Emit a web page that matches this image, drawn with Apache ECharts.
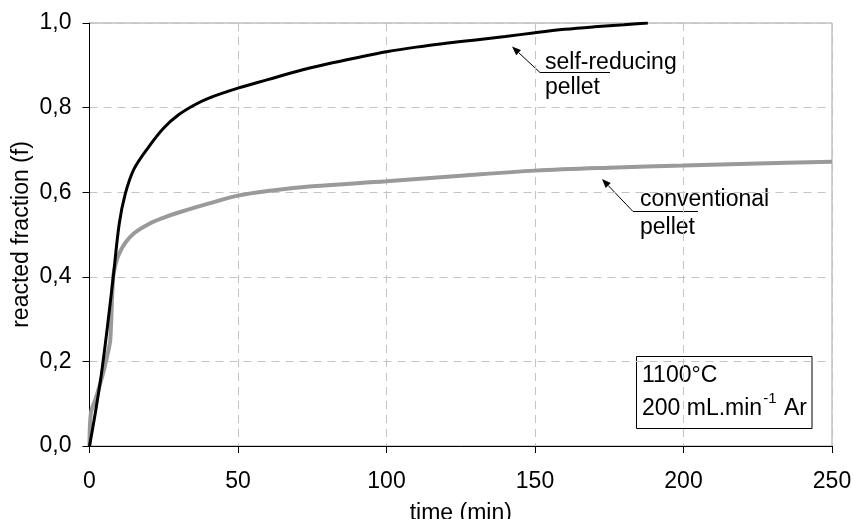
<!DOCTYPE html>
<html>
<head>
<meta charset="utf-8">
<script src="https://cdn.jsdelivr.net/npm/echarts@6/dist/echarts.min.js"></script>
<style>
    html, body { margin: 0; padding: 0; background: #fff; }
    #chart { width: 853px; height: 519px; }
</style>
</head>
<body>
<div id="chart"></div>
<script>
// self-reducing pellet
var timeSelf = [0, 2, 4, 6, 8, 10, 12, 15, 20, 25, 30, 35, 40, 50, 60, 70, 80, 90, 100, 110, 120, 130, 140, 150, 160, 170, 180, 188];
var fracSelf = [0, 0.08, 0.17, 0.28, 0.40, 0.525, 0.595, 0.655, 0.708, 0.752, 0.783, 0.805, 0.822, 0.846, 0.866, 0.886, 0.903, 0.918, 0.932, 0.943, 0.952, 0.960, 0.968, 0.977, 0.985, 0.991, 0.996, 1.0];
// conventional pellet
var timeConv = [0, 0.5, 2, 4.5, 6.5, 7, 8, 9, 10, 12, 15, 20, 25, 30, 40, 50, 60, 75, 100, 125, 150, 175, 200, 225, 250];
var fracConv = [0, 0.08, 0.11, 0.17, 0.23, 0.25, 0.40, 0.435, 0.455, 0.48, 0.503, 0.525, 0.54, 0.552, 0.573, 0.592, 0.603, 0.614, 0.626, 0.639, 0.651, 0.658, 0.663, 0.668, 0.672];

var xTicks = [0, 50, 100, 150, 200, 250];
var yTicks = [0, 0.2, 0.4, 0.6, 0.8, 1.0];

var font = 'Liberation Sans, Arial, sans-serif';
var fs = 23;

var pairs = function(xs, ys) {
    var out = [];
    for (var i = 0; i < xs.length; i++) {
        out.push([xs[i], ys[i]]);
    }
    return out;
};

var textWidth = function(str, size) {
    var ctx = document.createElement('canvas').getContext('2d');
    ctx.font = size + 'px ' + font;
    return ctx.measureText(str).width;
};

var label = function(str, x, y, size) {
    return {
        type: 'text', left: x, top: y,
        style: { text: str, font: (size || fs) + 'px ' + font, fill: '#000' }
    };
};

// arrow from the underline end to the tip
var arrow = function(x0, y0, x1, y1, ux) {
    var dx = x1 - x0, dy = y1 - y0,
        len = Math.sqrt(dx * dx + dy * dy),
        ex = dx / len, ey = dy / len,
        hl = 9, hw = 3.5,
        bx = x1 - ex * hl, by = y1 - ey * hl;
    return [{
        type: 'polyline',
        shape: { points: [[ux, y0], [x0, y0], [bx, by]] },
        style: { stroke: '#000', lineWidth: 1, fill: null }
    }, {
        type: 'polygon',
        shape: { points: [[x1, y1], [bx - ey * hw, by + ex * hw], [bx + ey * hw, by - ex * hw]] },
        style: { fill: '#000' }
    }];
};

var chart = echarts.init(document.getElementById('chart'));

var flowX = 642,
    w1 = textWidth('200 mL.min', fs),
    w2 = textWidth('-1', 15);

var graphics = [].concat(
    arrow(540, 72.5, 512, 46.5, 610),
    arrow(633, 211.5, 602, 179, 698),
    [
        label('self-reducing', 545, 51),
        label('pellet', 545, 76.5),
        label('conventional', 640, 188.5),
        label('pellet', 640, 216.5),
        {
            type: 'rect',
            shape: { x: 636.5, y: 356.5, width: 175.5, height: 72 },
            style: { fill: '#fff', stroke: '#000', lineWidth: 1 }
        },
        label('1100°C', flowX, 364.5),
        label('200 mL.min', flowX, 397.5),
        label('-1', flowX + w1 + 1, 391, 15),
        label(' Ar', flowX + w1 + w2 + 2, 397.5)
    ]
);

chart.setOption({
    animation: false,
    backgroundColor: '#fff',
    grid: {
        left: 89.5, right: 21, top: 23, bottom: 73,
        containLabel: false,
        outerBoundsMode: 'none',
        show: true, borderColor: '#a0a0a0', borderWidth: 1, backgroundColor: 'transparent'
    },
    xAxis: {
        type: 'value',
        min: 0, max: 250, interval: 50,
        name: 'time (min)',
        nameLocation: 'middle',
        nameGap: 56,
        nameMoveOverlap: false,
        nameTextStyle: { fontSize: fs, fontFamily: font, color: '#000' },
        axisLine: { lineStyle: { color: '#000', width: 1 } },
        axisTick: { show: true, length: 7, lineStyle: { color: '#000' } },
        axisLabel: {
            fontSize: fs, fontFamily: font, color: '#000', margin: 24,
            formatter: function(v) { return xTicks.indexOf(v) >= 0 ? String(v) : ''; }
        },
        splitLine: { show: true, lineStyle: { color: '#c4c4c4', type: [8, 6], width: 1 } }
    },
    yAxis: {
        type: 'value',
        min: 0, max: 1, interval: 0.2,
        name: 'reacted fraction (f)',
        nameLocation: 'middle',
        nameGap: 56,
        nameMoveOverlap: false,
        nameTextStyle: { fontSize: fs, fontFamily: font, color: '#000' },
        axisLine: { show: true, lineStyle: { color: '#000', width: 1 } },
        axisTick: { show: true, length: 7, lineStyle: { color: '#000' } },
        axisLabel: {
            fontSize: fs, fontFamily: font, color: '#000', margin: 18,
            formatter: function(v) { return v.toFixed(1).replace('.', ','); }
        },
        splitLine: { show: true, lineStyle: { color: '#c4c4c4', type: [8, 6], width: 1 } }
    },
    series: [{
        name: 'conventional pellet',
        type: 'line',
        data: pairs(timeConv, fracConv),
        showSymbol: false,
        smooth: 0.35,
        lineStyle: { color: '#9a9a9a', width: 4 },
        z: 2
    }, {
        name: 'self-reducing pellet',
        type: 'line',
        data: pairs(timeSelf, fracSelf),
        showSymbol: false,
        smooth: 0.35,
        lineStyle: { color: '#000', width: 3 },
        z: 3
    }],
    graphic: graphics
});
</script>
</body>
</html>
